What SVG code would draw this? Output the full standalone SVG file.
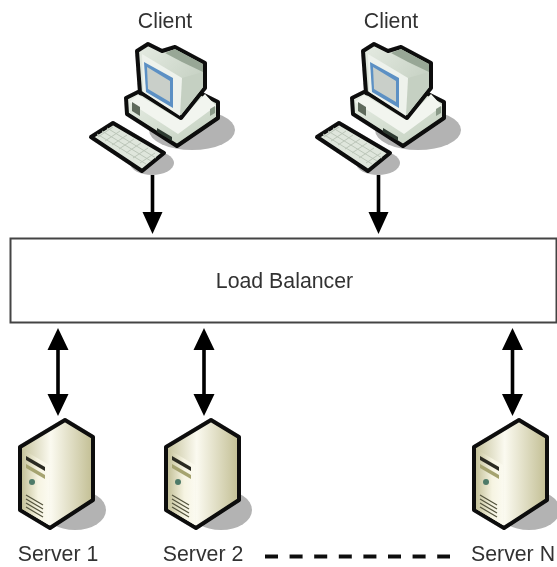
<svg xmlns="http://www.w3.org/2000/svg" width="557" height="567" viewBox="0 0 557 567">
<style>
text{font-family:"Liberation Sans",Arial,sans-serif;font-size:21.300px;fill:#333;text-anchor:middle;filter:url(#softer)}
.o{stroke:#0a0a0a;stroke-width:4;stroke-linejoin:round}
.l{stroke:#000;stroke-width:3.6;fill:none}
.s{fill:#b3b3b3}
</style>
<defs>
<filter id="soft" x="-5%" y="-5%" width="110%" height="110%"><feGaussianBlur stdDeviation="0.7"/></filter>
<filter id="softer" x="-5%" y="-20%" width="110%" height="140%"><feGaussianBlur stdDeviation="0.4"/></filter>
<linearGradient id="srv" x1="0" y1="0" x2="1" y2="0"><stop offset="0" stop-color="#c4c199"/><stop offset=".42" stop-color="#fbfaf0"/><stop offset="1" stop-color="#c2be93"/></linearGradient>
<linearGradient id="srvl" x1="0" y1="0" x2="1" y2="0"><stop offset="0" stop-color="#c4c199"/><stop offset=".6" stop-color="#f6f4e2"/><stop offset="1" stop-color="#fbfaf0"/></linearGradient>
<linearGradient id="base" x1="0" y1="0" x2="1" y2="1"><stop offset="0" stop-color="#e9efe6"/><stop offset="1" stop-color="#c2cfbe"/></linearGradient>
<linearGradient id="mon" x1="0" y1="0" x2="1" y2="1"><stop offset="0" stop-color="#e6ece3"/><stop offset="1" stop-color="#b9c6b6"/></linearGradient>
<g id="computer" filter="url(#soft)">
<ellipse class="s" cx="192" cy="130" rx="43" ry="20"/>
<ellipse class="s" cx="152" cy="163" rx="22" ry="12"/>
<path class="o" fill="url(#base)" d="M126 98 138 92 190 88 218 102 218 118 177 146 127 114Z"/>
<path fill="#f2f5ef" d="M129 102 178 134 216 106 205 94 180 120 138 95Z"/>
<path fill="#5f6a5c" d="M132 111 140 116 140 107 132 102Z"/>
<path fill="#2f3a30" d="M157 132 172 141 172 137 157 128Z"/>
<path fill="#8a9a88" d="M210 116 215 113 215 106 210 109Z"/>
<path class="o" fill="url(#mon)" d="M137 51 148 44 162 51 175 47 205 63 205 88 181 118 143 94 140 93Z"/>
<path fill="#98a796" d="M165 53 175 49 203 64 203 72 182 62Z"/>
<path fill="#c5d0c2" d="M182 78 203 72 203 87 181 115Z"/>
<path fill="#eef2ec" d="M142 54 182 78 180 116 143 92Z"/>
<path fill="#5b90c4" d="M144 62 173 78 173 108 146 92Z"/>
<path fill="#c9cfc9" d="M147 67 170 81 170 102 148 89Z"/>
<path class="o" fill="#dfe6dc" d="M91 137 113 123 164 153 142 171Z"/>
<g stroke="#bcc6b9" stroke-width="1" fill="none">
<path d="M98 137 113 127M105 141 120 131M112 145 127 135M119 149 134 139M126 153 141 143M133 158 148 148M140 163 155 153"/>
<path d="M97 134 146 164M102 131 151 161M107 128 156 158"/>
</g>
</g>
<g id="server" filter="url(#soft)">
<ellipse class="s" cx="75" cy="510" rx="31" ry="20"/>
<path class="o" fill="url(#srv)" d="M65 420 93 437 93 500 50 528 20 510 20 447Z"/>
<path fill="url(#srvl)" d="M22 449 49 465 49 525 22 509Z"/>
<path fill="#2c2c22" d="M26 456 45 467 45 471 26 460Z"/>
<path fill="#a5a36f" d="M26 464 45 475 45 479 26 468Z"/>
<circle cx="32" cy="482" r="3" fill="#4e7a68"/>
<g stroke="#55553f" stroke-width="1.300" fill="none"><path d="M26 499 43 509M26 503 43 513M26 507 43 517M26 495 43 505"/></g>
</g>
</defs>
<g id="client-1"><use href="#computer"/><text x="165" y="28">Client</text></g>
<g id="client-2"><use href="#computer" x="226"/><text x="391" y="28">Client</text></g>
<g id="load-balancer"><rect x="10.500" y="238.500" width="546" height="84" fill="#fff" stroke="#444" stroke-width="2"/><text x="284.500" y="288">Load Balancer</text></g>
<g id="server-1"><use href="#server"/><text x="58" y="561">Server 1</text></g>
<g id="server-2"><use href="#server" x="146"/><text x="203" y="561">Server 2</text></g>
<g id="server-n"><use href="#server" x="454"/><text x="513" y="561">Server N</text></g>
<g id="connectors" filter="url(#softer)">
<path class="l" d="M152.500 175V214M378.500 175V214M58 350V394M204 350V394M512.500 350V394"/>
<path d="M142.500 212H162.500L152.500 234ZM368.500 212H388.500L378.500 234Z"/>
<path d="M47.500 350H68.500L58 328ZM47.500 394H68.500L58 416ZM193.500 350H214.500L204 328ZM193.500 394H214.500L204 416ZM502 350H523L512.500 328ZM502 394H523L512.500 416Z"/>
<path d="M265 556.500H450" stroke="#111" stroke-width="4" stroke-dasharray="13 11.600" fill="none"/>
</g>
</svg>
